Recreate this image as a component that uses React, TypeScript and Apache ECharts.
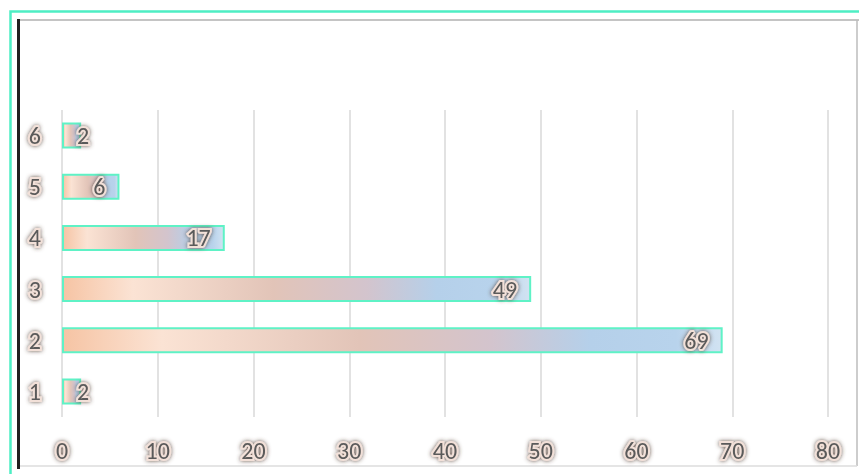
import React, { useEffect, useRef } from "react";
import * as echarts from "echarts";

const categories = ["1", "2", "3", "4", "5", "6"];
const values = [2, 69, 49, 17, 6, 2];
const xTicks = { min: 0, max: 80, interval: 10 };

const textFx = {
  color: "#5a5a5a",
  fontSize: 24,
  fontFamily: 'Carlito, "Liberation Sans", "Open Sans", sans-serif',
  textBorderColor: "#f2e0d8",
  textBorderWidth: 4,
  textShadowColor: "rgba(80,55,45,0.85)",
  textShadowBlur: 4,
};

const barFill = new echarts.graphic.LinearGradient(0, 0, 1, 0, [
  { offset: 0, color: "#f6c4a4" },
  { offset: 0.15, color: "#fbe3d4" },
  { offset: 0.45, color: "#e2c4b8" },
  { offset: 0.65, color: "#d3c4cd" },
  { offset: 0.8, color: "#b5d0ea" },
  { offset: 0.93, color: "#b8d3ec" },
  { offset: 1, color: "#d2e3f2" },
]);

export default function App() {
  const ref = useRef<HTMLDivElement>(null);

  useEffect(() => {
    if (!ref.current) return;
    const chart = echarts.init(ref.current, null, { renderer: "svg" });

    const data = values.map((v) => {
      const short = v < 5;
      return {
        value: v,
        label: short
          ? { position: "insideLeft" as const, distance: 15 }
          : { position: "insideRight" as const, distance: 14 },
      };
    });

    chart.setOption({
      animation: false,
      backgroundColor: "#ffffff",
      grid: { left: 62, right: 31, top: 110, bottom: 57 },
      xAxis: {
        type: "value",
        min: xTicks.min,
        max: xTicks.max,
        interval: xTicks.interval,
        axisLine: { show: false },
        axisTick: { show: false },
        splitLine: { show: true, lineStyle: { color: "#d9d9d9", width: 1.5 } },
        axisLabel: { ...textFx, margin: 21 },
      },
      yAxis: {
        type: "category",
        data: categories,
        axisLine: { show: false },
        axisTick: { show: false },
        splitLine: { show: false },
        axisLabel: { ...textFx, margin: 21 },
      },
      series: [
        {
          type: "bar",
          data,
          barWidth: 26,
          itemStyle: {
            color: barFill,
            borderColor: "#5ff2c6",
            borderWidth: 2,
          },
          label: { show: true, ...textFx },
        },
      ],
      graphic: [
        {
          type: "rect",
          z: -10,
          shape: { x: 10.5, y: 11.5, width: 860, height: 470 },
          style: { fill: "none", stroke: "#4eeec4", lineWidth: 2.5 },
        },
        {
          type: "line",
          z: -10,
          shape: { x1: 18, y1: 20, x2: 859, y2: 20 },
          style: { stroke: "#c4c4c4", lineWidth: 2 },
        },
        {
          type: "line",
          z: -10,
          shape: { x1: 857, y1: 20, x2: 857, y2: 466 },
          style: { stroke: "#bdbdbd", lineWidth: 1.5 },
        },
        {
          type: "line",
          z: -10,
          shape: { x1: 18, y1: 466, x2: 857, y2: 466 },
          style: { stroke: "#dddddd", lineWidth: 1.5 },
        },
        {
          type: "line",
          z: -9,
          shape: { x1: 18.5, y1: 19, x2: 18.5, y2: 469 },
          style: { stroke: "#1f1f1f", lineWidth: 3 },
        },
      ],
    });

    return () => chart.dispose();
  }, []);

  return (
    <div
      ref={ref}
      style={{ position: "fixed", left: 0, top: 0, width: 859, height: 474 }}
    />
  );
}
